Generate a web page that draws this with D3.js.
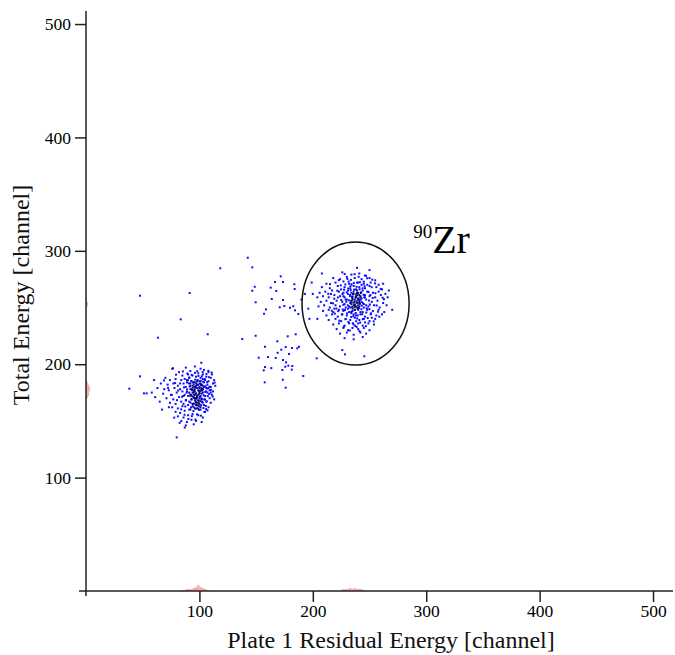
<!DOCTYPE html>
<html><head><meta charset="utf-8">
<script src="https://cdn.jsdelivr.net/npm/d3@7"></script>
<style>
body{margin:0;background:#fff;}
svg{display:block;font-family:"Liberation Serif","Times New Roman",serif;}
svg text{font-family:"Liberation Serif","Times New Roman",serif !important;}
</style></head>
<body><svg id="chart" width="675" height="655"></svg>
<script>
const xTicks=[100,200,300,400,500];
const yTicks=[100,200,300,400,500];
const xTitle="Plate 1 Residual Energy [channel]";
const yTitle="Total Energy [channel]";
const isotopeMass="90";
const isotopeSym="Zr";
// gate ellipse [cx, cy, rx, ry] in channels
const gate=[237.7,253.5,47.2,54.2];

// sparse events between/around clusters
const scatterPts=[[142.6,293.9],[146.6,285.4],[118.4,284.6],[47.6,260.4],[91.4,262.8],[83.5,239.6],[63.5,223.4],[107.3,226.4],[137.8,222.2],[149.6,225.1],[171.7,277.5],[166.7,272.5],[173.7,272.5],[148.8,268.3],[146.6,264.8],[162.9,267.5],[167.8,264.6],[183.7,270.5],[184.0,266.3],[149.6,254.6],[163.8,257.5],[173.7,256.6],[158.7,248.4],[157.0,244.5],[170.8,250.2],[174.9,251.3],[179.9,249.8],[182.8,251.1],[184.3,247.5],[187.2,244.3],[177.9,224.6],[184.9,226.4],[168.7,220.2],[157.8,215.4],[152.3,205.7],[160.5,206.3],[167.3,205.5],[169.0,210.1],[172.2,212.8],[176.1,215.2],[181.7,214.3],[186.3,214.0],[187.8,215.4],[179.0,209.0],[173.7,203.7],[176.4,201.7],[178.4,198.7],[175.7,197.8],[181.9,198.4],[157.8,197.5],[156.7,194.6],[163.4,196.6],[173.1,194.9],[181.4,195.2],[191.6,189.6],[173.5,186.3],[157.6,184.0],[176.1,179.3],[101.7,201.3],[76.7,196.4],[47.6,189.3],[38.2,178.4],[51.1,174.3],[53.5,174.3],[80,135.5],[261.6,258.6],[226,212.5],[228.4,208.7],[245.4,207],[203.4,205.2],[193,262],[196,249],[190,257],[199,272],[197,240]];

// cluster near (98,175)
const clusterA=[[76,196],[82,193],[88,197],[92,194],[96,198],[101,196],[104,195],[108,193],[111,191],[85,190],[90,191],[94,190],[99,192],[103,191],[106,189],[110,188],[113,186],[70,188],[74,186],[79,187],[84,186],[87,187],[91,188],[97,189],[101,188],[105,186],[108,185],[112,183],[66,183],[72,182],[77,183],[81,181],[86,183],[89,184],[93,185],[100,185],[104,184],[107,182],[110,180],[114,181],[63,179],[69,178],[73,177],[78,179],[83,178],[88,180],[92,181],[95,182],[102,182],[106,179],[109,177],[112,176],[68,174],[75,173],[80,175],[85,176],[89,176],[94,177],[98,179],[103,178],[107,175],[111,173],[71,170],[77,169],[82,171],[86,172],[90,172],[96,173],[100,174],[105,172],[109,170],[113,169],[74,166],[79,165],[84,167],[88,168],[93,169],[97,170],[102,169],[106,167],[110,166],[76,162],[81,161],[85,163],[90,164],[95,165],[99,166],[104,164],[108,162],[79,158],[83,157],[87,159],[92,160],[96,161],[101,160],[105,158],[81,154],[86,153],[90,155],[94,156],[99,155],[103,153],[84,150],[89,149],[93,151],[97,150],[102,149],[88,146],[95,147],[92,178],[95,175],[98,172],[101,177],[97,167],[94,163],[99,161],[102,174],[96,184],[93,173],[100,170],[104,180],[91,167],[98,182],[103,166],[106,176],[105,169],[89,186],[108,179],[87,173],[91,160],[103,187],[110,175],[83,183],[86,165],[58,175],[61,171],[65,167],[60,186],[67,160]];
const clusterA2=[[96.3,186.4],[101.7,179.2],[93.8,171.6],[104.2,168.9],[99.1,189.7],[91.4,180.3],[106.8,184.2],[97.6,163.8],[102.9,193.1],[88.7,174.9],[105.1,175.6],[94.7,158.7],[100.4,171.2],[108.3,188.6],[92.2,166.1],[98.8,181.7],[103.6,161.4],[89.9,185.8],[107.4,171.9],[95.3,176.8],[101.2,185.3],[93.1,190.6],[105.7,163.2],[97.2,169.5],[86.4,179.6],[103.1,178.3],[99.7,159.6],[91.9,173.4],[108.9,180.1],[96.1,192.4],[102.4,166.7],[94.2,183.9],[106.2,191.3],[88.2,168.4],[100.9,176.1],[97.9,155.8],[104.7,186.9],[92.6,161.9],[110.2,177.4],[95.8,179.9],[101.5,163.9],[89.4,191.8],[106.5,167.3],[98.4,186.1],[93.5,177.3],[103.8,172.6],[96.7,160.9],[107.9,194.2],[90.6,183.1],[99.3,168.2],[102.2,189.4],[94.9,165.3],[105.4,180.7],[87.6,162.7],[100.2,182.9],[97.1,174.3],[104.4,157.9],[91.1,188.2],[108.6,173.8],[95.1,170.1],[101.9,169.8],[93.3,154.2],[106.9,178.6],[98.1,193.8],[89.1,177.8],[103.4,184.6],[96.9,166.9],[92.9,185.1],[105.9,160.4],[99.9,178.8],[84.7,171.3],[81.3,176.8],[78.6,183.4],[83.9,160.2],[86.9,155.4],[72.4,179.1],[68.8,185.7],[80.2,168.3],[75.6,172.9],[79.4,190.8],[85.4,193.6],[90.3,151.7],[96.5,151.2],[101.3,154.6],[107.1,159.3],[111.7,171.4],[113.4,183.8],[110.8,192.7],[82.6,148.3],[87.1,144.2],[77.8,152.9],[73.1,162.1]];
const coreA=[[92,183],[95,184],[98,185],[101,183],[94,181],[97,181],[100,180],[103,181],[93,178],[96,178],[99,177],[102,178],[91,175],[94,175],[97,174],[100,175],[103,175],[92,172],[95,171],[98,171],[101,172],[93,169],[96,168],[99,168],[102,169],[94,165],[97,164],[100,165],[95,162],[98,161],[101,162],[96,176],[99,173],[97,166],[100,163],[96.6,179.8],[99.4,176.4],[97.8,170.6],[100.8,167.4],[95.4,173.1],[102.6,176.9],[98.6,163.7],[94.1,179.3],[101.4,181.6],[97.3,183.2],[99.1,165.9],[96.2,169.9]];

// cluster near (237,254)
const clusterB=[[226,281],[234,279],[241,280],[247,278],[218,276],[224,275],[230,277],[237,276],[243,275],[250,276],[255,274],[212,271],[220,272],[227,273],[232,271],[239,272],[245,271],[251,272],[258,270],[262,271],[208,268],[215,267],[222,269],[228,268],[233,267],[236,269],[241,268],[246,267],[250,269],[256,268],[261,266],[206,263],[211,264],[217,265],[223,264],[227,263],[231,265],[236,264],[240,263],[244,265],[248,264],[253,263],[258,264],[264,262],[204,259],[209,260],[214,259],[219,261],[224,260],[228,259],[233,261],[238,260],[242,259],[246,261],[250,260],[255,259],[260,261],[266,259],[207,255],[212,256],[216,254],[221,256],[226,255],[229,257],[234,255],[239,256],[243,255],[247,257],[252,255],[257,256],[262,254],[205,251],[210,252],[215,250],[220,252],[224,251],[228,253],[232,251],[237,252],[241,251],[245,253],[249,251],[254,252],[259,250],[265,252],[209,247],[214,248],[218,246],[223,248],[227,247],[231,249],[235,247],[240,248],[244,246],[248,248],[253,247],[258,248],[263,246],[212,243],[217,244],[222,242],[226,244],[230,243],[234,245],[238,243],[242,244],[246,242],[251,244],[256,243],[261,244],[214,239],[220,240],[225,238],[229,240],[233,239],[237,241],[241,239],[245,240],[250,238],[255,240],[218,235],[223,236],[228,234],[232,236],[236,235],[240,236],[244,234],[249,236],[254,235],[221,231],[227,232],[231,230],[235,232],[240,231],[245,232],[250,230],[224,227],[230,228],[236,226],[242,228],[247,227],[228,223],[236,222],[244,224],[208,280],[250,283],[200,262],[204,240],[267,265],[270,248],[239,285],[231,262],[235,258],[239,262],[243,258],[229,250],[233,254],[237,248],[241,254],[245,250],[230,257],[238,266],[242,246],[234,263],[246,259],[227,260],[236,244],[225,266],[248,270],[219,249],[252,241],[216,262],[243,270],[232,246],[247,252]];
const clusterB2=[[231.3,266.8],[244.7,261.2],[228.4,247.9],[239.6,243.1],[252.8,258.4],[222.1,258.9],[236.2,271.5],[247.5,249.3],[233.8,241.6],[241.2,266.1],[226.9,252.4],[249.1,263.7],[219.4,244.6],[256.3,251.8],[238.7,232.9],[230.5,275.2],[244.1,239.8],[213.6,262.1],[259.8,266.4],[235.1,259.9],[242.9,248.5],[228.7,270.3],[251.4,244.9],[223.3,238.4],[240.4,277.1],[232.6,229.7],[254.9,271.3],[217.8,253.7],[246.8,233.6],[229.9,263.4],[237.9,245.2],[244.2,253.8],[225.7,243.9],[249.6,256.2],[233.2,268.9],[241.8,236.7],[221.6,264.8],[257.4,246.3],[236.8,279.4],[227.3,233.1],[245.6,268.7],[231.9,256.3],[239.3,260.7],[234.7,250.6],[243.5,244.1],[226.1,261.9],[250.3,252.7],[238.2,237.9],[230.2,244.8],[247.9,275.8],[215.2,270.6],[262.7,257.3],[233.6,274.4],[241.1,229.2],[220.8,249.1],[253.7,237.8],[228.1,279.6],[245.3,258.9],[236.4,265.8],[231.4,237.2],[239.8,271.9],[224.6,269.5],[248.4,240.7],[235.7,242.3],[242.6,263.4],[229.5,255.1],[251.9,267.9],[218.9,257.8],[244.9,272.8],[232.8,260.2],[237.4,233.8],[226.4,248.3],[255.2,262.6],[240.7,249.7],[234.1,270.6],[247.2,245.6],[222.9,274.1],[258.6,241.9],[230.8,251.9],[243.8,266.9],[236.9,256.8],[228.9,239.7],[249.9,248.6],[233.9,246.2],[241.5,272.3],[216.7,247.2],[252.4,274.6],[238.6,268.3],[225.1,256.6],[246.1,236.9],[231.6,272.9],[243.2,251.6],[235.3,236.1],[227.6,265.7],[250.8,261.1],[239.1,240.4],[222.4,246.8],[245.9,278.2],[233.4,265.3],[240.2,257.6]];
const coreB=[[236,262],[239,263],[241,261],[238,259],[240,258],[242,257],[235,257],[237,255],[239,254],[234,253],[236,252],[238,251],[233,250],[235,249],[237,248],[240,252],[242,260],[239,250],[234,256],[241,255],[237.6,258.7],[235.8,254.3],[240.9,256.4],[238.3,261.8],[236.7,250.4],[239.7,248.9],[241.6,253.2],[234.6,259.2],[238.9,265.1],[237.2,252.7],[242.3,262.8],[235.4,262.1]];

// 1-D projections drawn on the axes: [bin start, counts]
const projX=[[84,1],[86,1],[88,2],[90,2],[92,2],[94,3],[96,4],[98,6],[100,4],[102,3],[104,2],[106,1],[212,1],[224,1],[226,2],[228,2],[230,2],[232,3],[234,2],[236,3],[238,2],[240,2],[242,2],[244,1]];
const projY=[[168,1],[170,2],[172,3],[174,3],[176,4],[178,4],[180,3],[182,2],[184,1],[249,1],[251,2],[253,2],[255,1],[257,1]];
const binW=2;

const svg=d3.select("#chart");
const x=d3.scaleLinear().domain([0,517.6]).range([86,673]);
const y=d3.scaleLinear().domain([0,511.5]).range([591,11]);
const h=d3.scaleLinear().domain([0,6]).range([0,6]);

// projections
svg.append("g").selectAll("rect").data(projX).join("rect")
  .attr("x",d=>x(d[0])).attr("width",x(binW)-x(0))
  .attr("y",d=>y(0)-h(d[1])).attr("height",d=>h(d[1]))
  .attr("fill","#f59a9a").attr("opacity",0.85);
svg.append("g").selectAll("rect").data(projY).join("rect")
  .attr("x",x(0)).attr("width",d=>h(d[1]))
  .attr("y",d=>y(d[0]+binW)).attr("height",y(0)-y(binW))
  .attr("fill","#f59a9a").attr("opacity",0.85);

// points
function dots(data,color,op){
  svg.append("g").selectAll("rect").data(data).join("rect")
    .attr("x",d=>x(d[0])-1).attr("y",d=>y(d[1])-1)
    .attr("width",2).attr("height",2)
    .attr("fill",color).attr("opacity",op);
}
dots(scatterPts,"#0000ff",0.95);
dots(clusterA,"#0000ff",0.95);
dots(clusterA2,"#0000ff",0.95);
dots(clusterB,"#0000ff",0.95);
dots(clusterB2,"#0000ff",0.95);
dots(coreA,"#00004a",0.9);
dots(coreB,"#00004a",0.9);

// gate ellipse
svg.append("ellipse")
  .attr("cx",x(gate[0])).attr("cy",y(gate[1]))
  .attr("rx",x(gate[2])-x(0)).attr("ry",y(0)-y(gate[3]))
  .attr("fill","none").attr("stroke","#111").attr("stroke-width",1.5);

// label
const lab=svg.append("text").attr("x",x(288.5)).attr("y",y(298)).attr("fill","#000");
lab.append("tspan").attr("font-size",19).attr("dy",-15).text(isotopeMass);
lab.append("tspan").attr("font-size",40).attr("dy",15).text(isotopeSym);

// axes
const gx=svg.append("g").attr("transform",`translate(0,${y(0)})`)
  .call(d3.axisBottom(x).tickValues(xTicks).tickSize(11).tickSizeOuter(0).tickPadding(3));
const gy=svg.append("g").attr("transform",`translate(${x(0)},0)`)
  .call(d3.axisLeft(y).tickValues(yTicks).tickSize(11).tickSizeOuter(0).tickPadding(4));
[gx,gy].forEach(g=>{
  g.attr("font-family","Liberation Serif").attr("font-size",17.5);
  g.select(".domain").remove();
  g.selectAll("line").attr("stroke","#222").attr("stroke-width",1.5);
  g.selectAll("text").style("font-family","'Liberation Serif', serif").attr("font-size",17.5).attr("fill","#000");
});
svg.append("line").attr("x1",x(0)-7).attr("x2",x.range()[1]).attr("y1",y(0)).attr("y2",y(0))
  .attr("stroke","#222").attr("stroke-width",1.5);
svg.append("line").attr("x1",x(0)).attr("x2",x(0)).attr("y1",y(0)+5).attr("y2",y.range()[1])
  .attr("stroke","#222").attr("stroke-width",1.5);

// titles
svg.append("text").attr("x",391).attr("y",648).attr("text-anchor","middle")
  .attr("font-size",24).attr("fill","#111").text(xTitle);
svg.append("text").attr("transform","translate(29,295) rotate(-90)").attr("text-anchor","middle")
  .attr("font-size",24).attr("fill","#111").text(yTitle);
</script></body></html>
